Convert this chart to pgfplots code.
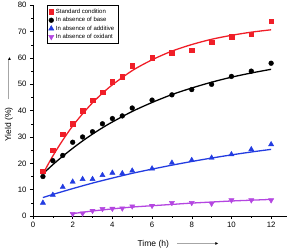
\documentclass[border=0pt]{standalone}
\usepackage{pgfplots}
\pgfplotsset{compat=1.18}
\usepackage{fontspec}
\setmainfont{Liberation Sans}
\newfontfamily\dejavu{DejaVu Sans}
\definecolor{cred}{RGB}{240,30,40}
\definecolor{cblue}{RGB}{35,60,225}
\definecolor{cpurp}{RGB}{180,70,225}
\newcommand{\harrow}{\textcolor{gray!70}{\rule[0.55ex]{40bp}{0.5pt}}\kern-1.5pt{\dejavu\fontsize{6bp}{6bp}\selectfont\raisebox{0.05ex}{▸}}}
\begin{document}
\begin{tikzpicture}
\begin{axis}[
  at={(0,0)}, anchor=south west,
  scale only axis,
  width=254bp, height=210.7bp,
  xmin=0, xmax=12.8, ymin=0, ymax=80,
  axis lines*=left,
  axis line style={line width=0.6pt},
  tick align=outside,
  xtick={0,2,...,12}, ytick={0,10,...,80},
  minor x tick num=1, minor y tick num=1,
  major tick length=3bp, minor tick length=1.8bp,
  every tick/.style={black,line width=0.5pt},
  tick label style={font=\fontsize{7.8bp}{9bp}\selectfont},
  /pgf/number format/assume math mode=true,
  xlabel={Time (h)\hspace{8bp}\harrow},
  ylabel={Yield (\%)\hspace{8bp}\harrow},
  label style={font=\fontsize{8.5bp}{10bp}\selectfont},
  xlabel style={yshift=-5bp, xshift=18bp},
  ylabel style={yshift=-2bp, xshift=11bp},
  legend style={at={(rel axis cs:0.055,1)}, anchor=north west,
    font=\fontsize{6bp}{7bp}\selectfont, draw=black, line width=0.4pt,
    row sep=-1.5pt, inner sep=1.5pt},
  legend cell align=left,
]
% scatter data
\addplot[only marks, mark=square*, mark size=2.3bp, color=cred] coordinates {
(0.5,17)(1,25)(1.5,31)(2,35)(2.5,40)(3,44)(3.5,47)(4,51)(4.5,53)(5,57)(6,60)(7,62)(8,63)(9,66)(10,68)(11,69)(12,74)};
\addlegendentry{Standard condition}
\addplot[only marks, mark=*, mark size=2.4bp, color=black] coordinates {
(0.5,15)(1,21)(1.5,23)(2,28)(2.5,30)(3,32)(3.5,35)(4,37)(4.5,38)(5,41)(6,44)(7,46)(8,48)(9,50)(10,53)(11,55)(12,58)};
\addlegendentry{In absence of base}
\addplot[only marks, mark=triangle*, mark size=3bp, color=cblue] coordinates {
(0.5,5)(1,8)(1.5,11)(2,13)(2.5,14)(3,14)(3.5,15.5)(4,16.4)(4.5,16.2)(5,17.2)(6,18)(7,20.2)(8,21.2)(9,22.1)(10,23.4)(11,25.3)(12,27.2)};
\addlegendentry{In absence of additive}
\addplot[only marks, mark=triangle*, mark options={rotate=180}, mark size=3bp, color=cpurp] coordinates {
(2,0.8)(2.5,1)(3,2)(3.5,2.7)(4,2.8)(4.5,2.9)(5,3.7)(6,3.9)(7,5)(8,5)(9,4.7)(10,6)(11,6)(12,6)};
\addlegendentry{In absence of oxidant}
% fitted curves
\addplot[smooth, color=cred, line width=1.3pt, forget plot] coordinates {
(0.5,16)(1,22.8)(1.5,28.8)(2,34.2)(2.5,38.8)(3,43.0)(3.5,46.6)(4,49.8)(5,55.2)(6,59.3)(7,62.6)(8,65.1)(9,67.1)(10,68.6)(11,69.8)(12,70.7)};
\addplot[smooth, color=black, line width=1.3pt, forget plot] coordinates {
(0.5,16)(1,19.5)(1.5,22.7)(2,25.7)(2.5,28.5)(3,31.1)(3.5,33.5)(4,35.7)(5,39.7)(6,43.1)(7,46.1)(8,48.6)(9,50.8)(10,52.7)(11,54.3)(12,55.7)};
\addplot[smooth, color=cblue, line width=1.3pt, forget plot] coordinates {
(0.5,7)(1,8.2)(1.5,9.3)(2,10.4)(3,12.5)(4,14.4)(5,16.2)(6,17.8)(7,19.3)(8,20.7)(9,22.0)(10,23.2)(11,24.3)(12,25.3)};
\addplot[smooth, color=cpurp, line width=1.3pt, forget plot] coordinates {
(2,0.9)(3,1.9)(4,2.7)(5,3.4)(6,3.9)(7,4.4)(8,4.9)(9,5.3)(10,5.7)(11,6.0)(12,6.3)};
\end{axis}
\pgfresetboundingbox
\path (-33bp,-35bp) rectangle (260bp,216bp);
\end{tikzpicture}
\end{document}
